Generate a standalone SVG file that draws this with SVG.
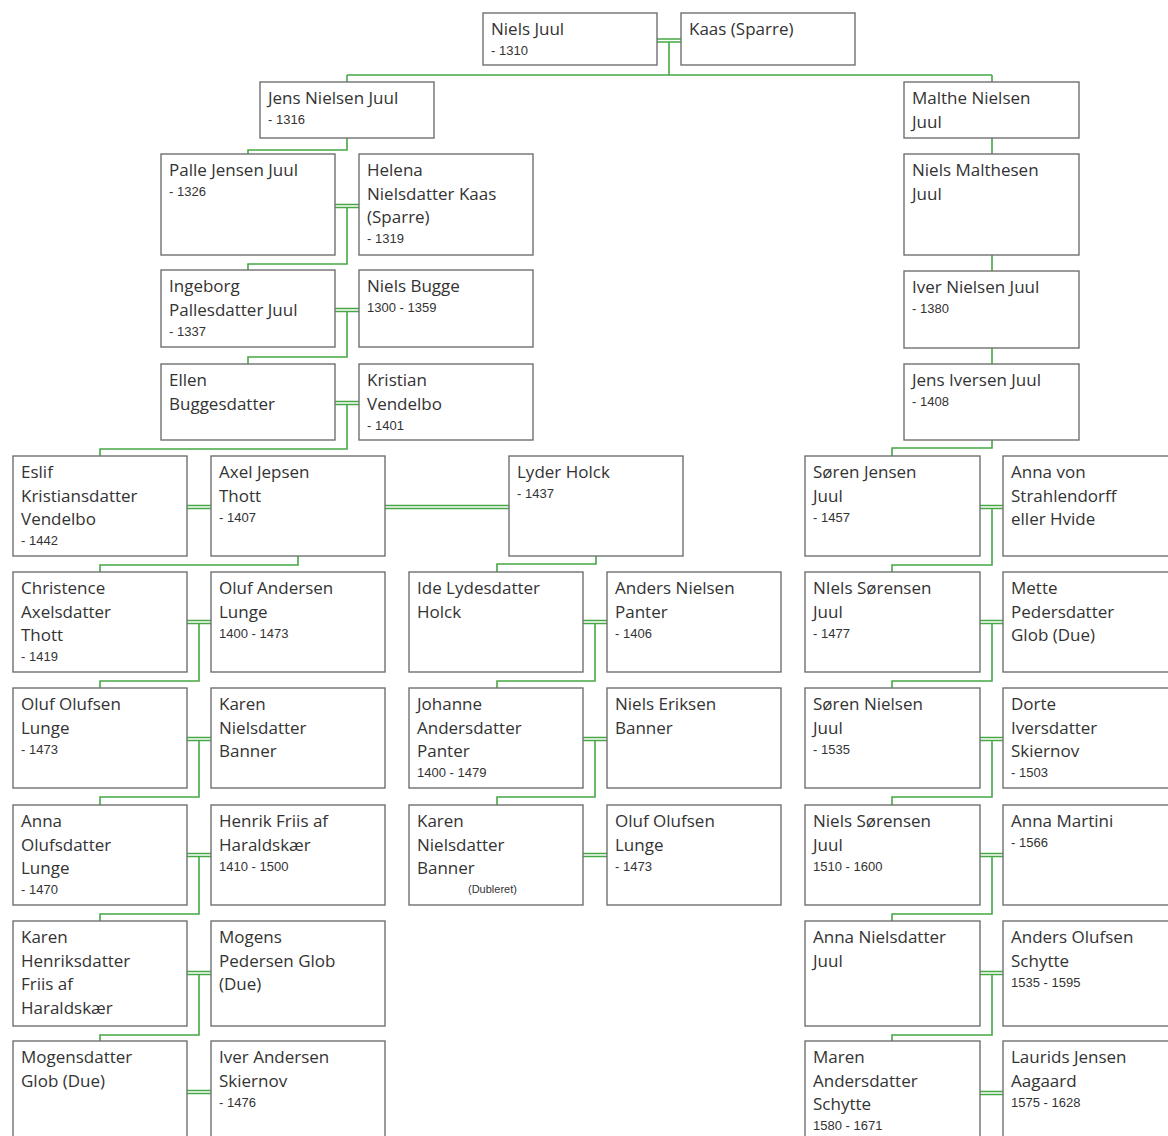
<svg xmlns="http://www.w3.org/2000/svg" width="1168" height="1136" viewBox="0 0 1168 1136">
<style>
.b{fill:#fff;stroke:#707070;stroke-width:1.4}
.n{font-family:"Open Sans","Noto Sans",sans-serif;font-size:17px;fill:#333}
.d{font-family:"Liberation Sans",Arial,sans-serif;font-size:13px;fill:#333}
.s{font-family:"Liberation Sans",Arial,sans-serif;font-size:11px;fill:#333}
.c{fill:none;stroke:#45a845;stroke-width:1.6}
</style>
<rect width="1168" height="1136" fill="#fff"/>
<g id="connectors">
<path class="c" d="M657,39 H681 M657,42 H681 M669,42 V75 M347,75 H992 M347,75 V82 M992,75 V82"/>
<path class="c" d="M347,138 V150 H248 V154"/>
<path class="c" d="M335,204.5 H359 M335,207.5 H359 M347,207.5 V264 H248 V270"/>
<path class="c" d="M335,308.5 H359 M335,311.5 H359 M347,311.5 V357 H248 V364"/>
<path class="c" d="M335,401.5 H359 M335,404.5 H359 M347,404.5 V449 H100 V456"/>
<path class="c" d="M187,505.5 H211 M187,508.5 H211 M385,505.5 H509 M385,508.5 H509"/>
<path class="c" d="M298,556 V565 H100 V572"/>
<path class="c" d="M596,556 V564 H497 V572"/>
<path class="c" d="M187,620.5 H211 M187,623.5 H211 M199,623.5 V681 H100 V688"/>
<path class="c" d="M187,737.5 H211 M187,740.5 H211 M199,740.5 V797 H100 V805"/>
<path class="c" d="M187,853.5 H211 M187,856.5 H211 M199,856.5 V914 H100 V921"/>
<path class="c" d="M187,971.5 H211 M187,974.5 H211 M199,974.5 V1035 H100 V1041"/>
<path class="c" d="M187,1090.5 H211 M187,1093.5 H211"/>
<path class="c" d="M583,620.5 H607 M583,623.5 H607 M595,623.5 V681 H497 V688"/>
<path class="c" d="M583,737.5 H607 M583,740.5 H607 M595,740.5 V797 H497 V805"/>
<path class="c" d="M583,853.5 H607 M583,856.5 H607"/>
<path class="c" d="M992,138 V154 M992,255 V271 M992,348 V364 M992,440 V448 H892 V456"/>
<path class="c" d="M980,505.5 H1003 M980,508.5 H1003 M992,508.5 V565 H892 V572"/>
<path class="c" d="M980,620.5 H1003 M980,623.5 H1003 M992,623.5 V681 H892 V688"/>
<path class="c" d="M980,737.5 H1003 M980,740.5 H1003 M992,740.5 V797 H892 V805"/>
<path class="c" d="M980,853.5 H1003 M980,856.5 H1003 M992,856.5 V914 H892 V921"/>
<path class="c" d="M980,971.5 H1003 M980,974.5 H1003 M992,974.5 V1035 H892 V1041"/>
<path class="c" d="M980,1091.5 H1003 M980,1094.5 H1003"/>
</g>

<g id="niels-juul"><rect class="b" x="483" y="13" width="174" height="52"/><text class="n" x="491" y="35">Niels Juul</text><text class="d" x="491" y="55">- 1310</text></g>
<g id="kaas"><rect class="b" x="681" y="13" width="174" height="52"/><text class="n" x="689" y="35">Kaas (Sparre)</text></g>

<g id="jens-nielsen-juul"><rect class="b" x="260" y="82" width="174" height="56"/><text class="n" x="268" y="104">Jens Nielsen Juul</text><text class="d" x="268" y="124">- 1316</text></g>
<g id="palle"><rect class="b" x="161" y="154" width="174" height="101"/><text class="n" x="169" y="176">Palle Jensen Juul</text><text class="d" x="169" y="196">- 1326</text></g>
<g id="helena"><rect class="b" x="359" y="154" width="174" height="101"/><text class="n" x="367" y="176">Helena</text><text class="n" x="367" y="199.5">Nielsdatter Kaas</text><text class="n" x="367" y="223">(Sparre)</text><text class="d" x="367" y="243">- 1319</text></g>
<g id="ingeborg"><rect class="b" x="161" y="270" width="174" height="77"/><text class="n" x="169" y="292">Ingeborg</text><text class="n" x="169" y="315.5">Pallesdatter Juul</text><text class="d" x="169" y="335.5">- 1337</text></g>
<g id="niels-bugge"><rect class="b" x="359" y="270" width="174" height="77"/><text class="n" x="367" y="292">Niels Bugge</text><text class="d" x="367" y="312">1300 - 1359</text></g>
<g id="ellen"><rect class="b" x="161" y="364" width="174" height="76"/><text class="n" x="169" y="386">Ellen</text><text class="n" x="169" y="409.5">Buggesdatter</text></g>
<g id="kristian"><rect class="b" x="359" y="364" width="174" height="76"/><text class="n" x="367" y="386">Kristian</text><text class="n" x="367" y="409.5">Vendelbo</text><text class="d" x="367" y="429.5">- 1401</text></g>

<g id="eslif"><rect class="b" x="13" y="456" width="174" height="100"/><text class="n" x="21" y="478">Eslif</text><text class="n" x="21" y="501.5">Kristiansdatter</text><text class="n" x="21" y="525">Vendelbo</text><text class="d" x="21" y="545">- 1442</text></g>
<g id="axel"><rect class="b" x="211" y="456" width="174" height="100"/><text class="n" x="219" y="478">Axel Jepsen</text><text class="n" x="219" y="501.5">Thott</text><text class="d" x="219" y="521.5">- 1407</text></g>
<g id="lyder"><rect class="b" x="509" y="456" width="174" height="100"/><text class="n" x="517" y="478">Lyder Holck</text><text class="d" x="517" y="498">- 1437</text></g>

<g id="christence"><rect class="b" x="13" y="572" width="174" height="100"/><text class="n" x="21" y="594">Christence</text><text class="n" x="21" y="617.5">Axelsdatter</text><text class="n" x="21" y="641">Thott</text><text class="d" x="21" y="661">- 1419</text></g>
<g id="oluf-andersen"><rect class="b" x="211" y="572" width="174" height="100"/><text class="n" x="219" y="594">Oluf Andersen</text><text class="n" x="219" y="617.5">Lunge</text><text class="d" x="219" y="637.5">1400 - 1473</text></g>
<g id="oluf-olufsen-1"><rect class="b" x="13" y="688" width="174" height="100"/><text class="n" x="21" y="710">Oluf Olufsen</text><text class="n" x="21" y="733.5">Lunge</text><text class="d" x="21" y="753.5">- 1473</text></g>
<g id="karen-banner-1"><rect class="b" x="211" y="688" width="174" height="100"/><text class="n" x="219" y="710">Karen</text><text class="n" x="219" y="733.5">Nielsdatter</text><text class="n" x="219" y="757">Banner</text></g>
<g id="anna-olufsdatter"><rect class="b" x="13" y="805" width="174" height="100"/><text class="n" x="21" y="827">Anna</text><text class="n" x="21" y="850.5">Olufsdatter</text><text class="n" x="21" y="874">Lunge</text><text class="d" x="21" y="894">- 1470</text></g>
<g id="henrik-friis"><rect class="b" x="211" y="805" width="174" height="100"/><text class="n" x="219" y="827">Henrik Friis af</text><text class="n" x="219" y="850.5">Haraldskær</text><text class="d" x="219" y="870.5">1410 - 1500</text></g>
<g id="karen-henriksdatter"><rect class="b" x="13" y="921" width="174" height="105"/><text class="n" x="21" y="943">Karen</text><text class="n" x="21" y="966.5">Henriksdatter</text><text class="n" x="21" y="990">Friis af</text><text class="n" x="21" y="1013.5">Haraldskær</text></g>
<g id="mogens"><rect class="b" x="211" y="921" width="174" height="105"/><text class="n" x="219" y="943">Mogens</text><text class="n" x="219" y="966.5">Pedersen Glob</text><text class="n" x="219" y="990">(Due)</text></g>
<g id="mogensdatter"><rect class="b" x="13" y="1041" width="174" height="100"/><text class="n" x="21" y="1063">Mogensdatter</text><text class="n" x="21" y="1086.5">Glob (Due)</text></g>
<g id="iver-andersen"><rect class="b" x="211" y="1041" width="174" height="100"/><text class="n" x="219" y="1063">Iver Andersen</text><text class="n" x="219" y="1086.5">Skiernov</text><text class="d" x="219" y="1106.5">- 1476</text></g>

<g id="ide"><rect class="b" x="409" y="572" width="174" height="100"/><text class="n" x="417" y="594">Ide Lydesdatter</text><text class="n" x="417" y="617.5">Holck</text></g>
<g id="anders-panter"><rect class="b" x="607" y="572" width="174" height="100"/><text class="n" x="615" y="594">Anders Nielsen</text><text class="n" x="615" y="617.5">Panter</text><text class="d" x="615" y="637.5">- 1406</text></g>
<g id="johanne"><rect class="b" x="409" y="688" width="174" height="100"/><text class="n" x="417" y="710">Johanne</text><text class="n" x="417" y="733.5">Andersdatter</text><text class="n" x="417" y="757">Panter</text><text class="d" x="417" y="777">1400 - 1479</text></g>
<g id="niels-eriksen"><rect class="b" x="607" y="688" width="174" height="100"/><text class="n" x="615" y="710">Niels Eriksen</text><text class="n" x="615" y="733.5">Banner</text></g>
<g id="karen-banner-2"><rect class="b" x="409" y="805" width="174" height="100"/><text class="n" x="417" y="827">Karen</text><text class="n" x="417" y="850.5">Nielsdatter</text><text class="n" x="417" y="874">Banner</text><text class="s" x="468" y="893">(Dubleret)</text></g>
<g id="oluf-olufsen-2"><rect class="b" x="607" y="805" width="174" height="100"/><text class="n" x="615" y="827">Oluf Olufsen</text><text class="n" x="615" y="850.5">Lunge</text><text class="d" x="615" y="870.5">- 1473</text></g>

<g id="malthe"><rect class="b" x="904" y="82" width="175" height="56"/><text class="n" x="912" y="104">Malthe Nielsen</text><text class="n" x="912" y="127.5">Juul</text></g>
<g id="niels-malthesen"><rect class="b" x="904" y="154" width="175" height="101"/><text class="n" x="912" y="176">Niels Malthesen</text><text class="n" x="912" y="199.5">Juul</text></g>
<g id="iver-nielsen"><rect class="b" x="904" y="271" width="175" height="77"/><text class="n" x="912" y="293">Iver Nielsen Juul</text><text class="d" x="912" y="313">- 1380</text></g>
<g id="jens-iversen"><rect class="b" x="904" y="364" width="175" height="76"/><text class="n" x="912" y="386">Jens Iversen Juul</text><text class="d" x="912" y="406">- 1408</text></g>

<g id="soren-jensen"><rect class="b" x="805" y="456" width="175" height="100"/><text class="n" x="813" y="478">Søren Jensen</text><text class="n" x="813" y="501.5">Juul</text><text class="d" x="813" y="521.5">- 1457</text></g>
<g id="anna-von"><rect class="b" x="1003" y="456" width="175" height="100"/><text class="n" x="1011" y="478">Anna von</text><text class="n" x="1011" y="501.5">Strahlendorff</text><text class="n" x="1011" y="525">eller Hvide</text></g>
<g id="niels-sorensen-1"><rect class="b" x="805" y="572" width="175" height="100"/><text class="n" x="813" y="594">NIels Sørensen</text><text class="n" x="813" y="617.5">Juul</text><text class="d" x="813" y="637.5">- 1477</text></g>
<g id="mette"><rect class="b" x="1003" y="572" width="175" height="100"/><text class="n" x="1011" y="594">Mette</text><text class="n" x="1011" y="617.5">Pedersdatter</text><text class="n" x="1011" y="641">Glob (Due)</text></g>
<g id="soren-nielsen"><rect class="b" x="805" y="688" width="175" height="100"/><text class="n" x="813" y="710">Søren Nielsen</text><text class="n" x="813" y="733.5">Juul</text><text class="d" x="813" y="753.5">- 1535</text></g>
<g id="dorte"><rect class="b" x="1003" y="688" width="175" height="100"/><text class="n" x="1011" y="710">Dorte</text><text class="n" x="1011" y="733.5">Iversdatter</text><text class="n" x="1011" y="757">Skiernov</text><text class="d" x="1011" y="777">- 1503</text></g>
<g id="niels-sorensen-2"><rect class="b" x="805" y="805" width="175" height="100"/><text class="n" x="813" y="827">Niels Sørensen</text><text class="n" x="813" y="850.5">Juul</text><text class="d" x="813" y="870.5">1510 - 1600</text></g>
<g id="anna-martini"><rect class="b" x="1003" y="805" width="175" height="100"/><text class="n" x="1011" y="827">Anna Martini</text><text class="d" x="1011" y="847">- 1566</text></g>
<g id="anna-nielsdatter"><rect class="b" x="805" y="921" width="175" height="105"/><text class="n" x="813" y="943">Anna Nielsdatter</text><text class="n" x="813" y="966.5">Juul</text></g>
<g id="anders-olufsen"><rect class="b" x="1003" y="921" width="175" height="105"/><text class="n" x="1011" y="943">Anders Olufsen</text><text class="n" x="1011" y="966.5">Schytte</text><text class="d" x="1011" y="986.5">1535 - 1595</text></g>
<g id="maren"><rect class="b" x="805" y="1041" width="175" height="100"/><text class="n" x="813" y="1063">Maren</text><text class="n" x="813" y="1086.5">Andersdatter</text><text class="n" x="813" y="1110">Schytte</text><text class="d" x="813" y="1130">1580 - 1671</text></g>
<g id="laurids"><rect class="b" x="1003" y="1041" width="175" height="100"/><text class="n" x="1011" y="1063">Laurids Jensen</text><text class="n" x="1011" y="1086.5">Aagaard</text><text class="d" x="1011" y="1106.5">1575 - 1628</text></g>
</svg>
